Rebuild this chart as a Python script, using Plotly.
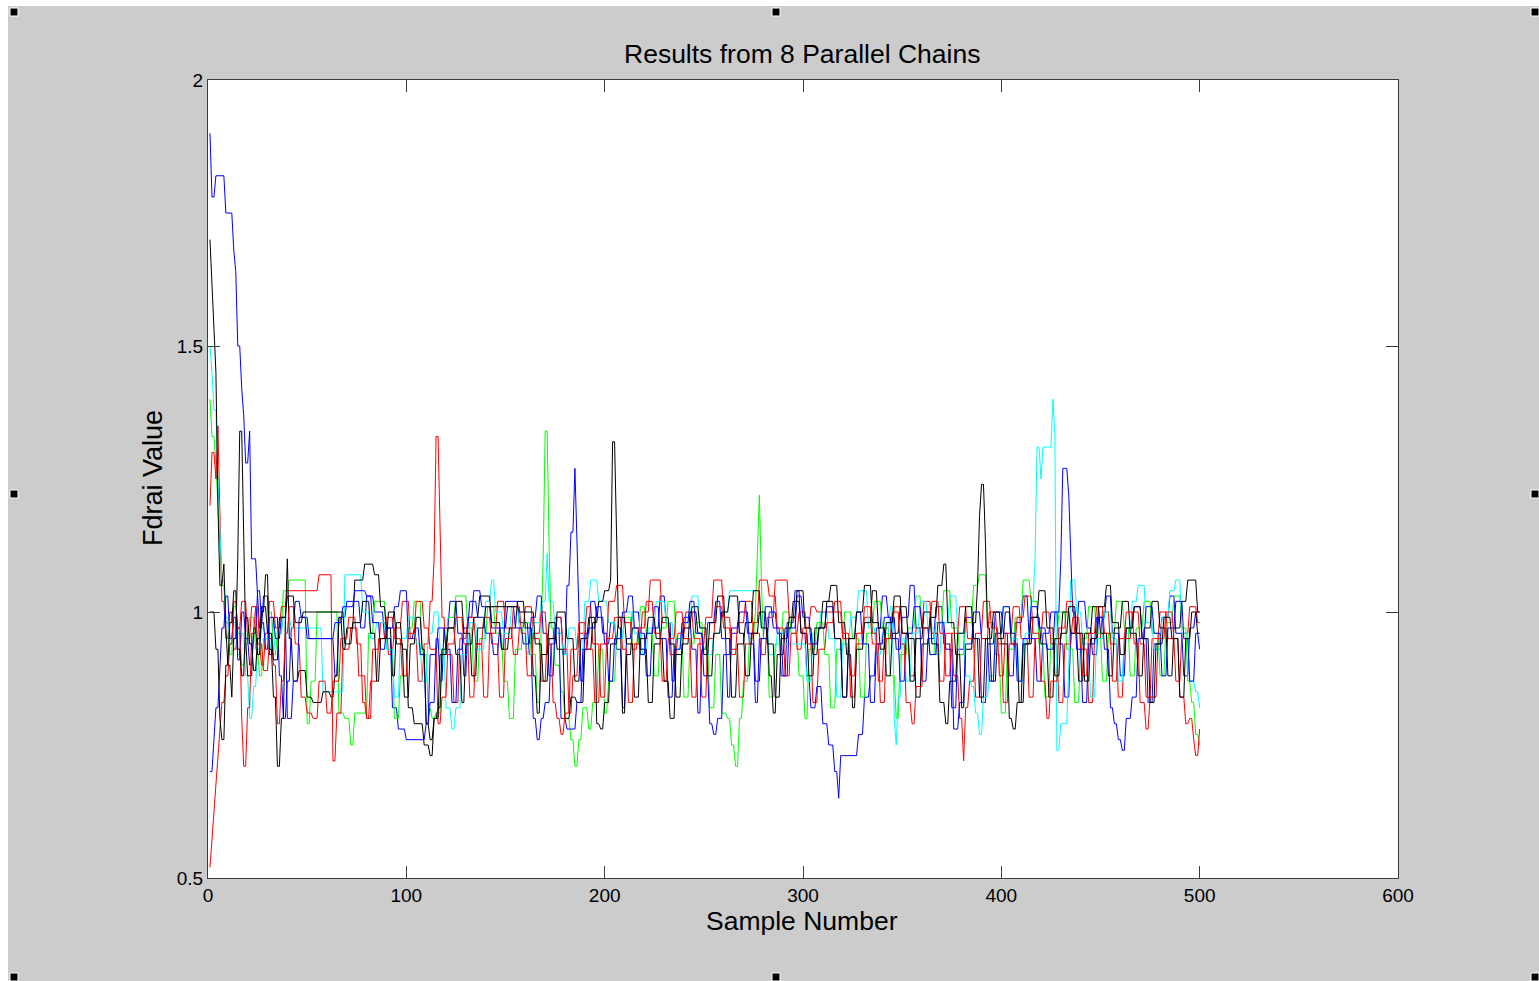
import numpy as np
import plotly.graph_objects as go

# Each chain is stored as (first sample, value) steps: the value holds until the next step.
N_SAMPLES = 500

chain_blue_a = [(1,1.90),(2,1.78),(4,1.82),(9,1.75),(13,1.68),(14,1.64),(15,1.50),(17,1.42),(18,1.37),(19,1.28),(21,1.34),(22,1.10),(25,1.03),(26,0.97),(28,1.03),(31,0.92),(33,0.99),(36,0.88),(38,0.80),(40,0.87),(42,0.97),(44,1.02),(47,0.99),(51,0.95),(64,0.88),(66,0.99),(70,1.02),(77,0.97),(80,1.03),(84,1.00),(89,0.95),(93,0.82),(96,0.78),(100,0.76),(110,0.79),(112,0.83),(115,0.95),(117,0.87),(119,0.97),(122,1.02),(126,0.96),(129,0.88),(131,0.99),(134,1.04),(138,1.01),(143,0.97),(148,0.93),(150,1.02),(157,0.98),(162,0.92),(164,0.80),(166,0.76),(168,0.80),(170,0.83),(173,0.94),(176,0.99),(179,0.92),(181,1.05),(183,1.15),(185,1.27),(186,1.13),(187,0.98),(188,0.87),(190,0.96),(193,1.02),(196,0.99),(200,0.94),(203,0.98),(206,0.93),(209,0.82),(211,0.95),(214,1.00),(218,0.96),(221,0.88),(224,0.97),(228,1.03),(231,0.98),(234,0.87),(236,0.95),(240,0.99),(244,0.93),(247,0.81),(249,0.93),(252,0.98),(256,1.02),(259,0.95),(262,0.84),(264,0.96),(268,1.00),(273,0.94),(276,0.83),(278,0.95),(281,1.01),(285,0.97),(289,0.88),(292,0.98),(296,1.04),(299,0.96),(302,0.88),(304,0.82),(307,0.86),(310,0.79),(313,0.75),(316,0.70),(318,0.65),(319,0.73),(328,0.77),(331,0.84),(334,0.88),(337,0.97),(340,1.03),(343,0.99),(347,0.93),(350,0.99),(354,1.05),(357,0.97),(360,0.87),(363,0.95),(367,1.01),(371,0.94),(375,0.82),(378,0.93),(382,0.99),(386,0.95),(390,0.83),(393,0.94),(397,1.00),(401,0.96),(404,0.88),(407,0.98),(411,1.03),(414,0.95),(418,0.87),(421,0.96),(425,1.00),(429,0.94),(432,0.84),(435,0.96),(439,1.02),(443,0.97),(446,0.92),(449,0.99),(453,1.03),(456,0.96),(460,0.88),(463,0.97),(467,1.01),(471,0.95),(474,0.83),(477,0.94),(481,0.99),(485,1.03),(488,0.96),(492,0.88),(495,0.97),(498,1.00)]

chain_green = [(1,1.40),(2,1.33),(4,1.28),(5,1.20),(6,1.12),(7,1.05),(9,0.98),(11,0.92),(13,1.01),(15,0.96),(17,0.90),(19,0.94),(21,0.99),(24,0.93),(26,0.88),(28,0.95),(31,1.00),(33,0.92),(35,0.96),(38,1.04),(41,1.06),(50,0.79),(52,0.87),(55,1.00),(66,0.81),(69,0.80),(72,0.75),(74,0.81),(81,0.96),(84,1.02),(90,0.93),(94,0.80),(97,0.88),(101,0.97),(104,1.02),(108,0.92),(111,0.82),(113,0.80),(115,0.81),(118,0.93),(121,0.99),(125,1.03),(131,0.97),(134,0.87),(137,0.95),(141,1.01),(145,0.96),(149,0.87),(152,0.80),(155,0.93),(159,0.98),(163,0.92),(166,0.83),(168,0.97),(169,1.10),(170,1.34),(172,1.12),(173,0.97),(175,0.90),(178,0.85),(180,0.80),(183,0.76),(185,0.71),(187,0.76),(189,0.82),(192,0.78),(194,0.83),(197,0.93),(200,0.81),(202,0.87),(206,0.95),(210,0.99),(214,0.94),(218,1.01),(221,0.96),(225,0.88),(228,0.97),(232,1.02),(236,0.95),(240,0.84),(243,0.94),(246,0.98),(250,0.93),(253,0.82),(256,0.92),(259,0.81),(262,0.80),(264,0.75),(266,0.71),(268,0.80),(270,0.87),(273,0.95),(276,1.00),(277,1.12),(278,1.22),(279,1.06),(280,0.95),(283,0.84),(286,0.94),(290,1.00),(294,0.96),(298,0.88),(301,0.80),(303,0.93),(307,0.98),(311,0.92),(314,0.82),(317,0.93),(321,1.00),(325,0.95),(329,0.84),(332,0.96),(336,1.02),(340,0.97),(344,0.88),(347,0.80),(349,0.92),(353,0.97),(357,1.03),(360,0.97),(364,0.92),(367,0.98),(371,1.04),(375,0.97),(379,0.92),(382,0.98),(386,1.05),(389,1.07),(393,0.98),(397,0.92),(400,0.81),(403,0.93),(407,0.99),(411,1.06),(415,1.02),(419,0.94),(422,0.84),(425,0.95),(429,1.00),(433,0.93),(437,0.83),(440,0.95),(444,1.01),(448,0.96),(451,0.87),(454,0.96),(458,1.02),(462,0.97),(465,0.88),(468,0.97),(472,1.02),(476,0.96),(480,0.88),(483,0.98),(487,1.03),(491,0.97),(494,0.87),(496,0.83),(498,0.77),(500,0.75)]

chain_red_a = [(1,1.20),(2,1.30),(4,1.25),(5,1.35),(6,1.15),(7,1.02),(9,0.95),(11,1.00),(13,0.93),(15,0.97),(17,1.02),(20,0.95),(22,1.01),(25,0.94),(27,0.90),(29,0.96),(31,1.02),(34,0.97),(37,1.01),(40,1.04),(56,1.07),(63,0.72),(65,0.81),(68,0.93),(72,0.97),(76,0.88),(80,0.80),(83,0.93),(87,0.98),(91,0.92),(94,0.97),(98,1.02),(102,0.95),(106,0.87),(109,0.94),(112,1.02),(114,1.10),(115,1.33),(117,1.15),(118,0.99),(120,0.92),(124,0.83),(127,0.95),(131,0.99),(135,0.94),(139,0.84),(142,0.96),(146,1.02),(150,0.97),(154,0.92),(157,0.97),(160,1.01),(164,0.95),(168,0.87),(171,0.95),(175,0.99),(179,0.93),(182,0.81),(184,0.88),(187,0.96),(191,1.01),(194,0.94),(198,0.84),(201,0.95),(205,0.99),(209,0.93),(212,0.83),(215,0.94),(219,1.00),(223,1.06),(229,0.98),(233,0.92),(237,0.96),(241,1.00),(245,0.95),(249,0.84),(252,0.95),(256,1.01),(260,0.97),(264,0.92),(267,0.98),(271,1.02),(275,0.96),(279,0.92),(282,0.99),(286,1.06),(293,0.99),(297,0.93),(300,0.97),(304,1.01),(307,1.00),(320,0.95),(324,0.84),(327,0.94),(331,0.99),(335,0.94),(339,0.83),(342,0.95),(346,1.01),(350,0.96),(354,0.88),(357,0.97),(361,1.02),(365,0.96),(369,0.87),(372,0.96),(376,0.88),(379,0.80),(381,0.72),(382,0.82),(384,0.87),(387,0.96),(391,1.02),(395,0.97),(399,0.88),(402,0.96),(406,1.01),(410,0.95),(414,0.84),(417,0.95),(421,1.00),(425,0.94),(429,0.83),(432,0.94),(436,0.99),(440,0.93),(444,0.83),(447,0.95),(451,1.00),(455,0.94),(459,0.84),(462,0.95),(466,1.00),(470,0.94),(473,0.84),(476,0.95),(480,1.00),(484,0.95),(488,0.87),(491,0.96),(495,1.01),(499,0.98)]

chain_cyan = [(1,1.50),(2,1.45),(3,1.38),(5,1.25),(6,1.15),(7,1.06),(9,0.99),(11,0.94),(13,0.98),(15,0.92),(17,0.96),(19,0.88),(21,0.80),(23,0.86),(25,0.93),(27,0.97),(29,0.95),(32,0.92),(34,0.96),(38,0.99),(42,0.97),(58,0.85),(69,1.07),(78,1.00),(82,0.95),(85,0.98),(90,0.93),(94,0.84),(97,0.95),(101,0.99),(105,0.94),(108,0.87),(111,0.96),(114,1.00),(117,0.93),(120,0.82),(123,0.78),(125,0.82),(128,0.92),(132,0.98),(136,0.93),(140,1.02),(143,1.06),(145,1.00),(149,0.96),(153,1.01),(157,0.97),(161,0.92),(164,0.98),(168,1.02),(171,1.11),(172,1.02),(175,0.96),(179,0.92),(182,0.97),(186,0.93),(190,1.02),(193,1.06),(197,1.02),(202,0.98),(206,0.95),(210,1.00),(215,0.96),(219,0.92),(222,0.97),(226,1.02),(231,0.98),(235,0.93),(239,0.98),(244,1.03),(248,0.97),(252,0.92),(255,0.96),(259,1.00),(263,1.04),(279,0.97),(283,0.92),(287,0.96),(291,0.94),(302,0.87),(305,0.96),(309,1.00),(313,0.95),(317,0.84),(320,0.94),(324,0.99),(328,1.04),(333,0.97),(337,0.92),(340,0.96),(344,1.01),(346,0.80),(347,0.75),(348,0.84),(350,0.95),(352,0.87),(355,0.96),(359,1.02),(363,0.97),(367,0.92),(370,0.98),(374,1.03),(378,0.96),(382,0.88),(385,0.86),(387,0.81),(389,0.77),(391,0.84),(394,0.88),(397,0.96),(401,1.01),(405,0.95),(409,0.87),(412,0.96),(415,1.02),(417,1.10),(418,1.31),(420,1.25),(421,1.31),(426,1.40),(427,1.33),(428,0.74),(430,0.79),(434,0.90),(435,1.06),(438,1.00),(441,0.94),(445,0.84),(448,0.95),(452,1.00),(456,0.95),(459,0.87),(462,0.96),(466,1.02),(469,1.05),(473,0.98),(477,0.93),(481,0.99),(485,1.04),(488,1.06),(491,0.96),(495,0.87),(498,0.85),(500,0.82)]

chain_black_a = [(1,1.70),(2,1.62),(3,1.54),(4,1.45),(5,1.20),(6,1.05),(8,1.09),(9,0.97),(10,0.90),(12,0.84),(13,0.95),(15,1.10),(16,1.34),(18,1.10),(19,0.95),(20,0.88),(23,0.97),(25,0.92),(27,1.00),(29,1.07),(31,0.93),(33,0.84),(35,0.71),(37,0.80),(39,0.98),(40,1.10),(41,0.95),(43,0.87),(46,0.89),(50,0.84),(53,0.83),(58,0.85),(62,0.84),(64,0.88),(66,0.99),(68,0.93),(70,0.97),(74,1.06),(79,1.09),(84,1.07),(87,1.01),(90,0.97),(93,0.88),(95,0.98),(98,0.93),(101,0.82),(104,0.79),(106,0.79),(109,0.75),(112,0.73),(114,0.80),(116,0.82),(118,0.93),(121,0.97),(125,0.92),(128,0.83),(130,0.94),(134,0.99),(137,1.03),(143,0.98),(148,0.93),(152,0.97),(156,1.02),(160,0.97),(164,0.88),(166,0.81),(168,0.92),(172,0.98),(176,0.93),(180,0.80),(183,0.84),(186,0.83),(190,0.93),(194,0.98),(197,1.02),(200,1.04),(203,1.06),(204,1.32),(206,1.15),(207,0.97),(209,0.81),(211,0.92),(214,0.97),(218,0.93),(222,0.83),(225,0.94),(229,0.99),(233,0.94),(236,0.84),(239,0.94),(243,1.00),(247,0.96),(250,0.92),(253,0.98),(257,1.03),(261,0.95),(264,0.84),(267,0.94),(271,0.98),(275,1.04),(279,0.97),(283,0.88),(285,0.81),(287,0.92),(291,0.97),(295,1.02),(299,0.96),(303,0.88),(306,0.97),(310,1.02),(314,1.05),(318,0.98),(322,0.92),(325,0.82),(327,0.93),(331,0.98),(335,1.04),(338,0.97),(342,0.88),(345,0.96),(349,1.01),(353,0.95),(357,0.84),(360,0.94),(364,0.99),(368,1.05),(371,1.09),(373,0.98),(377,0.92),(380,0.82),(382,0.93),(386,0.98),(388,1.05),(389,1.18),(390,1.24),(392,1.13),(393,0.97),(395,0.87),(398,0.95),(402,1.00),(405,0.94),(409,0.83),(412,0.94),(416,0.99),(420,0.94),(424,0.84),(427,0.95),(431,1.00),(435,0.96),(439,0.87),(442,0.96),(446,1.01),(450,0.96),(454,0.88),(457,0.97),(461,1.02),(465,0.96),(469,0.88),(472,0.97),(476,1.02),(480,0.97),(484,0.88),(487,0.97),(491,1.02),(494,1.06),(499,1.00)]

chain_blue_b = [(1,0.70),(3,0.76),(4,0.82),(6,0.90),(7,0.97),(9,1.03),(11,0.95),(13,0.99),(15,0.91),(17,1.00),(19,0.95),(21,0.90),(23,0.96),(25,1.04),(27,0.98),(29,0.93),(31,0.99),(34,0.95),(37,0.99),(40,0.80),(43,0.87),(46,0.99),(50,0.95),(64,0.98),(68,1.01),(74,1.04),(80,1.03),(83,0.98),(87,0.93),(90,0.97),(94,1.01),(97,1.04),(101,0.95),(104,0.97),(107,0.92),(110,0.79),(112,0.92),(116,0.97),(120,0.93),(123,0.83),(126,0.93),(129,0.97),(132,1.02),(136,0.99),(140,0.96),(144,0.92),(147,0.97),(151,1.01),(155,0.97),(159,0.94),(163,0.99),(166,1.03),(169,0.96),(172,0.88),(175,0.97),(178,0.80),(181,0.78),(183,0.78),(186,0.83),(189,0.93),(192,0.97),(196,1.01),(199,0.96),(202,0.87),(205,0.95),(209,1.00),(212,1.03),(215,0.97),(218,0.92),(221,0.96),(225,1.01),(228,0.95),(232,0.84),(235,0.93),(239,0.98),(243,1.02),(246,0.96),(250,0.88),(253,0.79),(255,0.77),(257,0.80),(260,0.92),(264,0.97),(268,1.02),(272,0.96),(276,0.87),(279,0.95),(283,1.00),(287,0.96),(290,0.88),(293,0.97),(297,1.03),(300,0.99),(304,0.94),(308,0.97),(312,1.01),(316,0.95),(320,0.84),(323,0.95),(327,1.00),(330,0.94),(334,0.83),(337,0.94),(341,0.99),(345,0.95),(349,0.87),(352,0.96),(356,1.01),(360,0.97),(364,0.92),(368,0.98),(372,0.93),(376,0.78),(379,0.83),(382,0.94),(386,1.00),(390,0.95),(394,0.87),(397,0.96),(401,1.01),(405,0.96),(408,0.87),(411,0.95),(415,1.01),(419,0.97),(423,0.93),(427,1.00),(430,1.10),(431,1.27),(434,1.22),(435,1.10),(436,1.00),(438,0.93),(441,0.83),(444,0.94),(448,0.99),(452,0.93),(455,0.82),(457,0.79),(459,0.76),(461,0.74),(463,0.80),(466,0.84),(469,0.95),(473,1.01),(477,0.96),(481,0.88),(484,0.97),(488,1.02),(492,0.95),(495,0.87),(498,0.96),(500,0.93)]

chain_red_b = [(1,0.52),(2,0.57),(3,0.62),(4,0.67),(5,0.72),(6,0.77),(7,0.83),(9,0.88),(11,0.94),(13,1.02),(15,0.97),(17,0.80),(18,0.71),(20,0.82),(22,0.96),(24,1.01),(26,0.94),(28,0.89),(31,0.95),(33,0.90),(35,0.79),(37,0.87),(39,0.96),(41,1.01),(44,0.94),(47,0.84),(50,0.81),(53,0.80),(56,0.87),(60,0.81),(63,0.87),(67,0.95),(71,0.99),(75,0.94),(78,0.83),(80,0.80),(82,0.87),(86,0.95),(90,0.99),(94,0.95),(98,0.88),(101,0.96),(105,1.02),(109,0.97),(112,0.93),(116,0.79),(118,0.84),(121,0.94),(125,0.99),(129,0.94),(132,0.84),(135,0.94),(139,0.99),(143,0.94),(147,0.84),(150,0.95),(154,1.01),(158,0.96),(161,0.88),(164,0.96),(168,1.00),(171,0.94),(174,0.83),(176,0.80),(178,0.77),(180,0.81),(183,0.93),(187,0.98),(191,0.93),(195,0.83),(198,0.94),(202,1.02),(206,1.05),(210,0.98),(214,0.93),(217,0.97),(221,1.02),(225,0.96),(229,0.87),(232,0.95),(236,1.00),(240,0.95),(244,0.84),(247,0.94),(251,0.99),(255,1.06),(260,0.99),(264,0.93),(268,0.84),(271,0.94),(275,0.98),(278,1.06),(283,1.03),(287,0.97),(291,0.88),(294,0.96),(298,1.00),(302,0.94),(305,0.83),(308,0.93),(312,0.98),(316,1.02),(320,0.96),(324,0.88),(327,0.96),(331,1.01),(335,0.96),(338,0.87),(341,0.95),(345,1.00),(349,0.94),(352,0.83),(355,0.79),(357,0.86),(361,0.97),(365,1.02),(369,0.96),(372,0.88),(375,0.96),(379,1.01),(383,0.95),(387,0.84),(390,0.95),(394,1.00),(398,0.94),(401,0.83),(404,0.94),(408,0.99),(412,1.03),(416,0.96),(420,0.87),(423,0.80),(425,0.87),(429,0.97),(433,1.02),(437,0.96),(441,0.88),(444,0.96),(448,1.01),(452,0.96),(456,0.87),(459,0.95),(463,1.00),(467,0.94),(470,0.83),(473,0.78),(475,0.84),(479,0.95),(483,1.00),(487,0.95),(490,0.84),(493,0.79),(495,0.80),(497,0.76),(498,0.73),(500,0.78)]

chain_black_b = [(1,1.00),(4,0.93),(6,0.80),(7,0.76),(9,0.90),(11,0.98),(13,1.04),(15,0.93),(17,0.88),(19,0.99),(21,0.94),(23,0.89),(25,0.95),(27,1.01),(30,0.96),(33,0.91),(36,0.99),(40,1.03),(44,0.98),(48,1.00),(69,0.94),(73,0.98),(78,1.02),(82,0.96),(85,0.87),(87,0.95),(91,1.00),(95,0.94),(99,0.84),(102,0.94),(105,0.99),(108,0.93),(110,0.79),(112,0.76),(114,0.80),(117,0.92),(121,0.97),(125,1.02),(129,0.96),(133,0.88),(136,0.97),(140,1.01),(157,1.00),(165,0.94),(169,0.87),(172,0.95),(176,1.00),(181,0.95),(185,0.87),(188,0.95),(192,0.99),(196,0.79),(198,0.78),(200,0.83),(203,0.94),(207,0.99),(211,0.94),(215,0.84),(218,0.95),(222,0.99),(226,0.95),(230,0.87),(233,0.80),(236,0.92),(240,0.97),(244,1.01),(248,0.97),(252,0.88),(255,0.96),(259,1.00),(263,1.03),(268,0.96),(271,0.88),(274,0.96),(278,1.00),(282,0.94),(286,0.84),(289,0.95),(293,0.99),(297,1.04),(301,0.97),(305,0.92),(308,0.97),(312,1.02),(316,0.95),(320,0.84),(323,0.95),(327,1.00),(331,1.05),(335,0.98),(339,0.93),(342,0.98),(346,1.03),(350,0.96),(354,0.87),(357,0.95),(361,1.00),(365,0.94),(369,0.83),(372,0.79),(374,0.87),(378,0.96),(382,1.01),(386,0.95),(389,0.84),(392,0.95),(396,1.00),(400,0.94),(404,0.80),(406,0.78),(408,0.83),(411,0.94),(415,0.99),(419,1.04),(423,0.97),(427,0.88),(430,0.96),(434,1.01),(438,0.96),(442,0.87),(445,0.95),(449,1.01),(453,1.05),(456,0.98),(460,0.92),(463,0.97),(467,1.01),(471,0.95),(475,0.83),(478,0.94),(482,0.99),(486,0.95),(490,0.84),(493,0.95),(496,1.00),(499,0.96)]

chains = [
    (chain_blue_a, "#0000ff"),
    (chain_green, "#00ff00"),
    (chain_red_a, "#ff0000"),
    (chain_cyan, "#00ffff"),
    (chain_black_a, "#000000"),
    (chain_blue_b, "#0000ff"),
    (chain_red_b, "#ff0000"),
    (chain_black_b, "#000000"),
]

x_ticks = [0, 100, 200, 300, 400, 500, 600]
y_ticks = [0.5, 1, 1.5, 2]
y_tick_text = ["0.5", "1", "1.5", "2"]


def expand(steps, n=N_SAMPLES):
    """Turn (first sample, value) steps into one value per sample."""
    starts = [s for s, _ in steps] + [n + 1]
    vals = [v for _, v in steps]
    runs = np.diff(starts)
    return np.repeat(vals, runs)


W, H = 1539, 981
L, R, T, B = 208, 1398, 80, 878

fig = go.Figure()
samples = np.arange(1, N_SAMPLES + 1)
for steps, color in chains:
    fig.add_trace(go.Scatter(
        x=samples, y=expand(steps), mode="lines",
        line=dict(color=color, width=1), showlegend=False, hoverinfo="skip"))

font = "Liberation Sans, Arial, sans-serif"
axis_common = dict(
    showgrid=False, zeroline=False, showline=True, mirror="ticks",
    linecolor="#3c3c3c", linewidth=1, ticks="inside", ticklen=12,
    tickcolor="#3c3c3c", tickwidth=1,
    tickfont=dict(family=font, size=19, color="#000000"),
)
fig.update_xaxes(range=[0, 600], tickvals=x_ticks, **axis_common)
fig.update_yaxes(range=[0.5, 2], tickvals=y_ticks, ticktext=y_tick_text, **axis_common)


def px(xp):
    return (xp - L) / (R - L)


def py(yp):
    return (B - yp) / (B - T)


shapes = []
# white strips along the top and left edges of the window
shapes.append(dict(type="rect", xref="paper", yref="paper", x0=px(0), x1=px(8), y0=py(H), y1=py(0),
                   fillcolor="#ffffff", line=dict(width=0), layer="below"))
shapes.append(dict(type="rect", xref="paper", yref="paper", x0=px(0), x1=px(W), y0=py(6), y1=py(0),
                   fillcolor="#ffffff", line=dict(width=0), layer="below"))
# selection handles
for hx, hy in [(14, 12), (776, 12), (1535, 12), (14, 494), (1535, 494), (14, 977), (776, 977), (1535, 977)]:
    shapes.append(dict(type="rect", xref="paper", yref="paper",
                       x0=px(hx - 4), x1=px(hx + 4), y0=py(hy + 4), y1=py(hy - 4),
                       fillcolor="#000000", line=dict(color="#ffffff", width=1)))

annotations = [
    dict(text="Results from 8 Parallel Chains", xref="paper", yref="paper",
         x=px(802), y=py(54), showarrow=False, font=dict(family=font, size=26.5, color="#000000"),
         xanchor="center", yanchor="middle"),
    dict(text="Sample Number", xref="paper", yref="paper",
         x=px(802), y=py(921), showarrow=False, font=dict(family=font, size=26.5, color="#000000"),
         xanchor="center", yanchor="middle"),
    dict(text="Fdrai Value", xref="paper", yref="paper", textangle=-90,
         x=px(153), y=py(478), showarrow=False, font=dict(family=font, size=27, color="#000000"),
         xanchor="center", yanchor="middle"),
]

fig.update_layout(
    width=W, height=H,
    margin=dict(l=L, r=W - R, t=T, b=H - B, pad=0),
    paper_bgcolor="#cccccc", plot_bgcolor="#ffffff",
    shapes=shapes, annotations=annotations,
)

fig.write_html("out.html")
